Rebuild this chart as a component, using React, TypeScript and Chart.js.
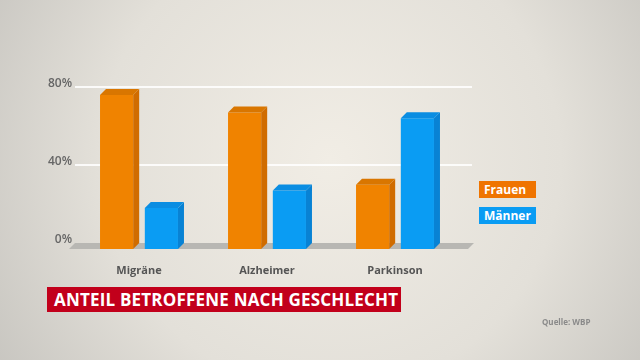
import React, { useEffect, useRef } from "react";
import { Chart, registerables } from "chart.js";

Chart.register(...registerables);

const categories = ["Migräne", "Alzheimer", "Parkinson"];
const frauenValues = [79, 70, 33];
const maennerValues = [21, 30, 67];
const yTicks = [0, 40, 80];
const seriesNames = ["Frauen", "Männer"];
const titleText = "ANTEIL BETROFFENE NACH GESCHLECHT";
const sourceText = "Quelle: WBP";

const ORANGE = "#f08300";
const ORANGE_SIDE = "#d06c00";
const ORANGE_TOP = "#d97600";
const BLUE = "#0a9cf3";
const BLUE_SIDE = "#0882d4";
const BLUE_TOP = "#0a8de2";
const DEPTH = 6;

const threeD = {
  id: "threeD",
  beforeDraw(chart: any) {
    const { ctx, chartArea, width, height } = chart;
    ctx.save();
    const g = ctx.createRadialGradient(330, 160, 0, 330, 160, 420);
    g.addColorStop(0, "#f1ede5");
    g.addColorStop(0.55, "#e3e0d9");
    g.addColorStop(1, "#c3c1bc");
    ctx.fillStyle = g;
    ctx.fillRect(0, 0, width, height);
    const y = chart.scales.y;
    ctx.strokeStyle = "rgba(255,255,255,0.85)";
    ctx.lineWidth = 2;
    yTicks.forEach((v) => {
      if (v === 0) return;
      const py = Math.round(y.getPixelForValue(v) - DEPTH);
      ctx.beginPath();
      ctx.moveTo(chartArea.left, py);
      ctx.lineTo(chartArea.right + 13, py);
      ctx.stroke();
    });
    const b = y.getPixelForValue(0);
    ctx.fillStyle = "#b8b7b3";
    ctx.beginPath();
    ctx.moveTo(chartArea.left - 6, b);
    ctx.lineTo(chartArea.right + 9, b);
    ctx.lineTo(chartArea.right + 9 + DEPTH, b - DEPTH);
    ctx.lineTo(chartArea.left - 6 + DEPTH, b - DEPTH);
    ctx.closePath();
    ctx.fill();
    ctx.restore();
  },
  afterDatasetsDraw(chart: any) {
    const { ctx } = chart;
    ctx.save();
    chart.data.datasets.forEach((ds: any, i: number) => {
      const meta = chart.getDatasetMeta(i);
      const side = i === 0 ? ORANGE_SIDE : BLUE_SIDE;
      const top = i === 0 ? ORANGE_TOP : BLUE_TOP;
      meta.data.forEach((el: any) => {
        const left = el.x - el.width / 2;
        const right = el.x + el.width / 2;
        const t = el.y;
        const base = el.base;
        ctx.fillStyle = side;
        ctx.beginPath();
        ctx.moveTo(right, t);
        ctx.lineTo(right + DEPTH, t - DEPTH);
        ctx.lineTo(right + DEPTH, base - DEPTH);
        ctx.lineTo(right, base);
        ctx.closePath();
        ctx.fill();
        ctx.fillStyle = top;
        ctx.beginPath();
        ctx.moveTo(left, t);
        ctx.lineTo(left + DEPTH, t - DEPTH);
        ctx.lineTo(right + DEPTH, t - DEPTH);
        ctx.lineTo(right, t);
        ctx.closePath();
        ctx.fill();
      });
    });
    ctx.restore();
  },
};

export default function App() {
  const ref = useRef<HTMLCanvasElement | null>(null);

  useEffect(() => {
    document.body.style.margin = "0";
    if (!ref.current) return;
    const chart = new Chart(ref.current, {
      type: "bar",
      data: {
        labels: categories,
        datasets: [
          {
            label: seriesNames[0],
            data: frauenValues,
            backgroundColor: ORANGE,
            categoryPercentage: 0.7,
            barPercentage: 0.74,
          },
          {
            label: seriesNames[1],
            data: maennerValues,
            backgroundColor: BLUE,
            categoryPercentage: 0.7,
            barPercentage: 0.74,
          },
        ],
      },
      options: {
        animation: false,
        responsive: false,
        layout: { padding: { left: 0, right: 181, top: 93, bottom: 81 } },
        plugins: {
          legend: { display: false },
          tooltip: { enabled: false },
        },
        scales: {
          x: {
            grid: { display: false },
            border: { display: false },
            ticks: {
              color: "#555555",
              font: { family: "Open Sans", size: 11, weight: "bold" },
              padding: 7,
            },
            afterFit: (s: any) => {
              s.height = 30;
            },
          },
          y: {
            min: 0,
            max: 80,
            afterBuildTicks: (s: any) => {
              s.ticks = yTicks.map((v) => ({ value: v }));
            },
            grid: { display: false, drawTicks: false },
            border: { display: false },
            ticks: {
              color: "#666666",
              font: { family: "Open Sans", size: 12, weight: "600" },
              padding: 3,
              labelOffset: -9,
              callback: (v: any) => v + "%",
            },
            afterFit: (s: any) => {
              s.width = 75;
            },
          },
        },
      },
      plugins: [threeD],
    });
    return () => chart.destroy();
  }, []);

  const legendBox = (text: string, color: string, top: number): React.ReactNode => (
    <div
      style={{
        position: "absolute",
        left: 479,
        top,
        width: 57,
        height: 17,
        background: color,
        color: "#fff",
        font: "bold 12px 'Open Sans', sans-serif",
        lineHeight: "17px",
        paddingLeft: 5,
        boxSizing: "border-box",
      }}
    >
      {text}
    </div>
  );

  return (
    <div style={{ position: "relative", width: 640, height: 360, overflow: "hidden" }}>
      <canvas ref={ref} width={640} height={360} style={{ display: "block" }} />
      {legendBox(seriesNames[0], "#ef7400", 181)}
      {legendBox(seriesNames[1], "#0a9cf3", 207)}
      <div
        style={{
          position: "absolute",
          left: 47,
          top: 287,
          width: 354,
          height: 25,
          background: "#c2001b",
          color: "#fff",
          font: "bold 17px 'Open Sans', sans-serif",
          letterSpacing: "0.2px",
          lineHeight: "25px",
          paddingLeft: 7,
          boxSizing: "border-box",
          whiteSpace: "nowrap",
        }}
      >
        {titleText}
      </div>
      <div
        style={{
          position: "absolute",
          left: 542,
          top: 316,
          color: "#8a8a8a",
          font: "bold 8px 'Open Sans', sans-serif",
        }}
      >
        {sourceText}
      </div>
    </div>
  );
}
